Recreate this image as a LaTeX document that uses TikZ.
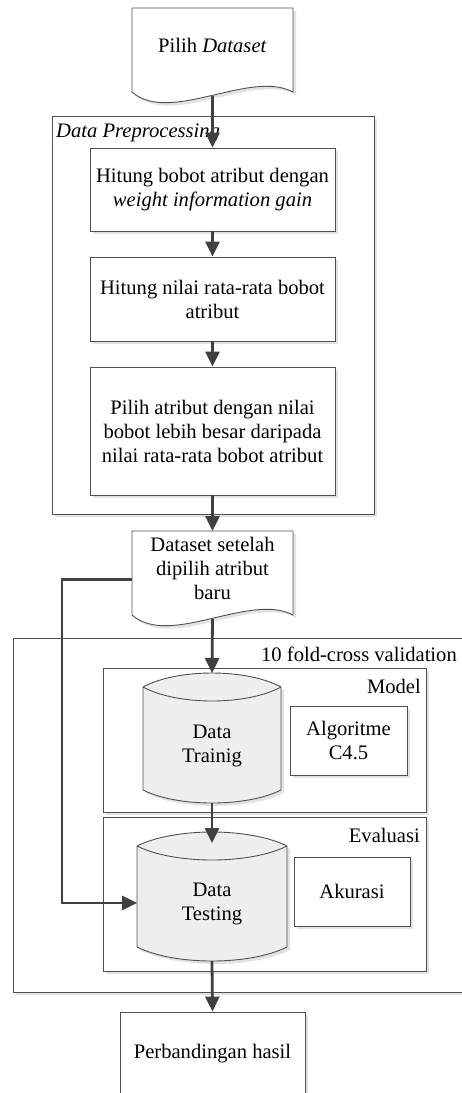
\documentclass[tikz,border=0pt]{standalone}
\usepackage{fontspec}
\setmainfont{Liberation Serif}
\usetikzlibrary{arrows.meta,calc,shadows}
\definecolor{arrc}{HTML}{404040}
\definecolor{linec}{HTML}{505050}
\definecolor{cylfill}{HTML}{EEEEEE}
\definecolor{shadowc}{HTML}{E2E2E2}
\newcommand{\docshape}[1]{%
  \path[draw=linec,line width=0.9pt,fill=white,shad]
    (#1.north west) -- (#1.north east) -- (#1.south east)
    .. controls ($(#1.south east)+(-43,-23)$) and ($(#1.south west)+(38,33)$) .. (#1.south west) -- cycle;}
\newcommand{\cylshape}[6]{%
  \path[draw=linec,line width=0.9pt,fill=cylfill,shad]
    (#1,#3) .. controls ({#1+0.25*(#2-#1)},{#3-4/3*#4}) and ({#2-0.25*(#2-#1)},{#3-4/3*#4}) .. (#2,#3)
    -- (#2,#5) .. controls ({#2-0.25*(#2-#1)},{#5+4/3*#6}) and ({#1+0.25*(#2-#1)},{#5+4/3*#6}) .. (#1,#5) -- cycle;
  \draw[draw=linec,line width=0.9pt] (#1,#3) .. controls ({#1+0.25*(#2-#1)},{#3+4/3*#4}) and ({#2-0.25*(#2-#1)},{#3+4/3*#4}) .. (#2,#3);}
\begin{document}
\begin{tikzpicture}[x=1pt,y=-1pt,
  shad/.style={drop shadow={shadow xshift=3pt,shadow yshift=-3pt,fill=shadowc,opacity=1}},
  box/.style={draw=linec,line width=0.9pt,fill=white,shad,inner sep=0pt,align=center,font=\fontsize{20.6}{24}\selectfont},
  hidden/.style={inner sep=0pt,outer sep=0pt,draw=none},
  txt/.style={align=center,font=\fontsize{20.6}{24}\selectfont,inner sep=0pt},
  arr/.style={draw=arrc,line width=2.8pt,-{Triangle[length=15pt,width=14pt]}},
  ]
\useasboundingbox (0,0) rectangle (461,1093);
% containers
\node[box,minimum width=322pt,minimum height=398pt] (dpp) at (213,315) {};
\node[txt,anchor=base west] (dppl) at (56,137) {\itshape Data Preprocessing};
\node[box,minimum width=467pt,minimum height=354pt] (cv) at (246.5,815) {};
\node[txt,anchor=base east] (cvl) at (457,661) {10 fold-cross validation};
\node[box,minimum width=323pt,minimum height=144pt] (model) at (264.5,740) {};
\node[txt,anchor=base east] (modell) at (421,693) {Model};
\node[box,minimum width=323pt,minimum height=154pt] (eval) at (264.5,894) {};
\node[txt,anchor=base east] (evall) at (420,842) {Evaluasi};
% documents
\node[hidden,minimum width=161pt,minimum height=84pt] (doc1) at (212.5,50) {};
\docshape{doc1}
\node[txt] (doc1t) at ([yshift=5pt]doc1.center) {Pilih \textit{Dataset}};
\node[hidden,minimum width=161pt,minimum height=84pt] (doc2) at (212.5,573) {};
\docshape{doc2}
\node[txt] (doc2t) at ([yshift=5pt]doc2.center) {Dataset setelah\\dipilih atribut\\baru};
% process boxes
\node[box,minimum width=245pt,minimum height=83pt] (b1) at (212.5,189.5) {Hitung bobot atribut dengan\\\textit{weight information gain}};
\node[box,minimum width=245pt,minimum height=84pt] (b2) at (212.5,299) {Hitung nilai rata-rata bobot\\atribut};
\node[box,minimum width=245pt,minimum height=128pt] (b3) at (212.5,431) {Pilih atribut dengan nilai\\bobot lebih besar daripada\\nilai rata-rata bobot atribut};
% cylinders
\cylshape{143}{281}{687}{14}{790}{13}
\node[hidden,minimum width=138pt,minimum height=130pt] (dtr) at (212,738) {};
\node[txt] (dtrt) at ([yshift=-7.5pt]dtr.center) {Data\\Trainig};
\cylshape{137}{287}{846}{14}{947}{14}
\node[hidden,minimum width=150pt,minimum height=129pt] (dte) at (212,896.5) {};
\node[txt] (dtet) at ([yshift=-7pt]dte.center) {Data\\Testing};
\node[box,minimum width=117pt,minimum height=69pt] (alg) at (348.5,740.5) {Algoritme\\C4.5};
\node[box,minimum width=116pt,minimum height=69pt] (aku) at (352,891.5) {Akurasi};
\node[box,minimum width=185pt,minimum height=84pt] (pb) at (212.5,1054) {Perbandingan hasil};
% connectors
\draw[arr] ([yshift=-4pt]doc1.south) -- (b1.north);
\draw[arr] (b1.south) -- (b2.north);
\draw[arr] (b2.south) -- (b3.north);
\draw[arr] (b3.south) -- (doc2.north);
\draw[arr] ([yshift=-4pt]doc2.south) -- (dtr.north);
\draw[arr] (dtr.south) -- ([yshift=-11pt]dte.north);
\draw[arr] (dte.south) -- (pb.north);
\draw[arr] ([yshift=-6.5pt]doc2.west) -- ++(-70,0) |- ([yshift=-6.5pt]dte.west);
\end{tikzpicture}
\end{document}
